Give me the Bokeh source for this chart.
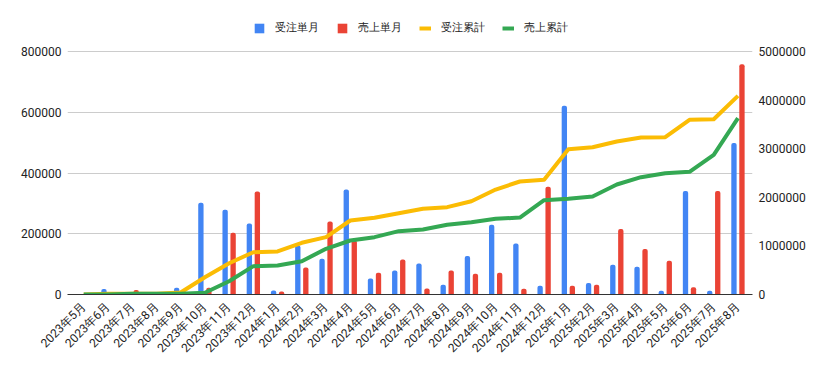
import math
from bokeh.plotting import figure
from bokeh.models import (Range1d, LinearAxis, FixedTicker, BasicTickFormatter,
                          Legend, LegendItem, ColumnDataSource)
from bokeh.transform import dodge
from bokeh.embed import file_html
from bokeh.resources import INLINE

months = ["2023年5月", "2023年6月", "2023年7月", "2023年8月", "2023年9月", "2023年10月",
          "2023年11月", "2023年12月", "2024年1月", "2024年2月", "2024年3月", "2024年4月",
          "2024年5月", "2024年6月", "2024年7月", "2024年8月", "2024年9月", "2024年10月",
          "2024年11月", "2024年12月", "2025年1月", "2025年2月", "2025年3月", "2025年4月",
          "2025年5月", "2025年6月", "2025年7月", "2025年8月"]

orders_monthly = [0, 18000, 0, 0, 22000, 302000, 279000, 234000, 13000, 161000, 118000,
                  346000, 53000, 79000, 102000, 32000, 127000, 230000, 168000, 29000,
                  621000, 38000, 98000, 91000, 12000, 341000, 12000, 499000]
sales_monthly = [0, 0, 15000, 0, 0, 22000, 203000, 339000, 10000, 89000, 240000, 178000,
                 72000, 115000, 20000, 79000, 68000, 72000, 19000, 355000, 29000, 32000,
                 216000, 150000, 111000, 24000, 341000, 758000]
orders_cum = [0, 18000, 18000, 18000, 40000, 356000, 644000, 870000, 885000, 1064000,
              1180000, 1523000, 1578000, 1673000, 1763000, 1797000, 1920000, 2160000,
              2325000, 2360000, 2990000, 3031000, 3148000, 3230000, 3237000, 3594000,
              3607000, 4088000]
sales_cum = [0, 0, 15000, 15000, 15000, 35000, 274000, 583000, 597000, 686000, 940000,
             1111000, 1180000, 1303000, 1337000, 1434000, 1488000, 1557000, 1584000,
             1941000, 1969000, 2016000, 2263000, 2414000, 2496000, 2524000, 2874000,
             3628000]

left_ticks = [0, 200000, 400000, 600000, 800000]
right_ticks = [0, 1000000, 2000000, 3000000, 4000000, 5000000]

FONT = "Roboto"
TEXT = "#222222"
BLUE, RED, YELLOW, GREEN = "#4285F4", "#EA4335", "#FBBC04", "#34A853"

# the frame reaches the top of the canvas (room for the legend); the top
# gridline (800000 / 5000000) sits 51px below the canvas top, the baseline at 294px
FRAME_H = 294.0
GRID_H = 243.0
left_end = left_ticks[-1] * FRAME_H / GRID_H
right_end = right_ticks[-1] * FRAME_H / GRID_H

idx = list(range(len(months)))
src = ColumnDataSource(dict(x=idx, orders=orders_monthly, sales=sales_monthly,
                            ocum=orders_cum, scum=sales_cum))

p = figure(width=827, height=371, output_backend="svg", toolbar_location=None,
           x_range=Range1d(-0.67, 27.6), y_range=Range1d(0, left_end),
           min_border_left=67, min_border_right=75, min_border_top=0, min_border_bottom=77)
p.extra_y_ranges = {"right": Range1d(0, right_end)}
p.outline_line_color = None
p.xgrid.visible = False
p.ygrid.grid_line_color = "#cccccc"
p.ygrid.grid_line_width = 1

yax = p.yaxis[0]
yax.ticker = FixedTicker(ticks=left_ticks)
yax.formatter = BasicTickFormatter(use_scientific=False)
yax.axis_line_color = None
yax.major_tick_line_color = None
yax.minor_tick_line_color = None
yax.major_tick_out = 0
yax.major_tick_in = 0
yax.major_label_standoff = 6
yax.major_label_text_font = FONT
yax.major_label_text_font_size = "12px"
yax.major_label_text_color = TEXT

rax = LinearAxis(y_range_name="right", ticker=FixedTicker(ticks=right_ticks),
                 formatter=BasicTickFormatter(use_scientific=False))
rax.axis_line_color = None
rax.major_tick_line_color = None
rax.minor_tick_line_color = None
rax.major_tick_out = 0
rax.major_tick_in = 0
rax.major_label_standoff = 6
rax.major_label_text_font = FONT
rax.major_label_text_font_size = "12px"
rax.major_label_text_color = TEXT
p.add_layout(rax, "right")

xax = p.xaxis[0]
xax.ticker = FixedTicker(ticks=idx)
xax.major_label_overrides = {i: m for i, m in enumerate(months)}
xax.major_label_orientation = math.pi / 4
xax.major_tick_line_color = None
xax.minor_tick_line_color = None
xax.major_tick_out = 0
xax.major_tick_in = 0
xax.major_label_standoff = 10
xax.axis_line_color = "#333333"
xax.axis_line_width = 1
xax.major_label_text_font = FONT
xax.major_label_text_font_size = "12px"
xax.major_label_text_color = TEXT

b1 = p.vbar(x=dodge("x", -0.165, range=p.x_range), top="orders", width=0.22, source=src,
            fill_color=BLUE, line_color=None, border_radius=(2, 2, 0, 0))
b2 = p.vbar(x=dodge("x", 0.165, range=p.x_range), top="sales", width=0.22, source=src,
            fill_color=RED, line_color=None, border_radius=(2, 2, 0, 0))
l1 = p.line("x", "ocum", source=src, y_range_name="right", line_color=YELLOW,
            line_width=4, line_join="round")
l2 = p.line("x", "scum", source=src, y_range_name="right", line_color=GREEN,
            line_width=4, line_join="round")

# zero-area twins of the bar series, only used for square legend swatches
k1 = p.varea(x="x", y1=0, y2=0, source=src, fill_color=BLUE)
k2 = p.varea(x="x", y1=0, y2=0, source=src, fill_color=RED)

legend = Legend(items=[LegendItem(label="受注単月", renderers=[k1]),
                       LegendItem(label="売上単月", renderers=[k2]),
                       LegendItem(label="受注累計", renderers=[l1]),
                       LegendItem(label="売上累計", renderers=[l2])],
                orientation="horizontal", location=(186, 259),
                glyph_width=12, glyph_height=12, label_standoff=10, spacing=17,
                border_line_color=None, background_fill_alpha=0, padding=0, margin=0,
                label_text_font=FONT, label_text_font_size="11px",
                label_text_color=TEXT)
p.add_layout(legend, "center")

open("out.html", "w").write(file_html(p, INLINE))
